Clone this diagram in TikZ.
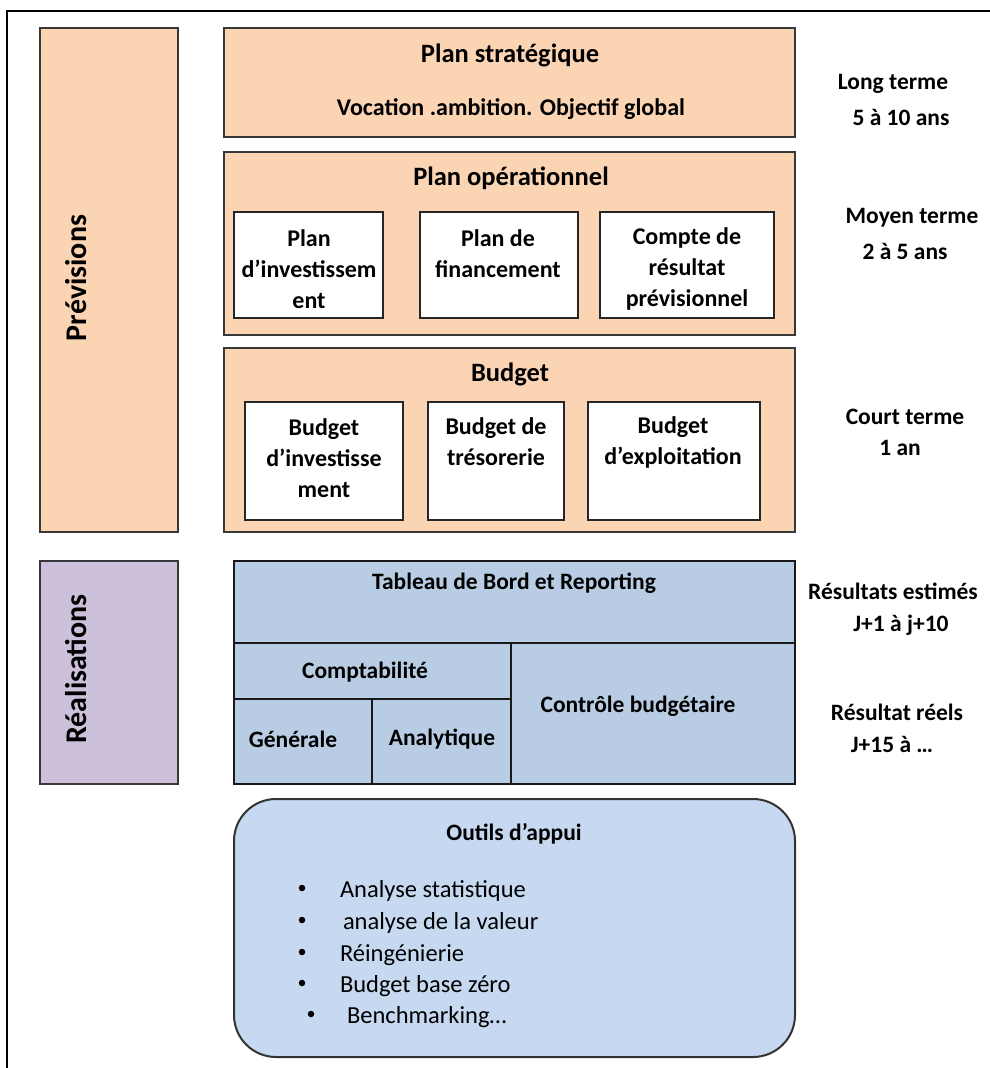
\documentclass[tikz,border=0pt]{standalone}
\usepackage{fontspec}
\setmainfont{Carlito}
\begin{document}
\begin{tikzpicture}[x=1pt,y=-1pt,
  every node/.style={inner sep=0pt,outer sep=0pt,font=\bfseries\fontsize{24}{31}\selectfont},
  peach/.style={draw=black!78,line width=2.2pt,fill=peachfill},
  whitebox/.style={draw=black!85,line width=1.6pt,fill=white},
  bluecell/.style={draw=black!90,line width=1.5pt,fill=bluefill},
  txt/.style={align=center},
  head/.style={align=center,font=\bfseries\fontsize{26.5}{31}\selectfont},
  cell/.style={align=center,font=\bfseries\fontsize{23.5}{31}\selectfont},
  side/.style={font=\bfseries\fontsize{23.5}{28}\selectfont},
  vert/.style={rotate=90,font=\bfseries\fontsize{30}{34}\selectfont},
  item/.style={anchor=base west,font=\fontsize{24.5}{28}\selectfont},
  dot/.style={circle,fill=black,minimum size=6.5pt}
]
\definecolor{peachfill}{HTML}{FBD4B4}
\definecolor{lilac}{HTML}{CCC0DA}
\definecolor{bluefill}{HTML}{B8CCE4}
\definecolor{lightblue}{HTML}{C6D9F1}
\useasboundingbox (0,0) rectangle (990,1068);

% page frame
\draw[line width=1.2pt] (7,1068) -- (7,11) -- (990,11);

% left column
\node[peach,minimum width=138,minimum height=504] (prev) at (109,280) {};
\node[vert] (prevtxt) at (76,278) {Prévisions};
\node[draw=black!78,line width=2.2pt,fill=lilac,minimum width=138,minimum height=223] (real) at (109,672.5) {};
\node[vert] (realtxt) at (76,669) {Réalisations};

% strategic plan
\node[peach,minimum width=571,minimum height=109] (strat) at (509.5,82.5) {};
\node[head] (strat1) at (510,55) {Plan stratégique};
\node[txt] (strat2) at (511,109) {Vocation .ambition. Objectif global};

% operational plan
\node[peach,minimum width=571,minimum height=183] (oper) at (509.5,243.5) {};
\node[head] (opertitle) at (511,178) {Plan opérationnel};
\node[whitebox,minimum width=149,minimum height=106] (pinv) at (308.5,265) {};
\node[txt] (pinvt) at (309,269) {Plan\\d’investissem\\ent};
\node[whitebox,minimum width=158,minimum height=106] (pfin) at (499,265) {};
\node[txt] (pfint) at (498,253.5) {Plan de\\financement};
\node[whitebox,minimum width=174,minimum height=106] (pcr) at (687,265) {};
\node[txt] (pcrt) at (687,269) {Compte de\\résultat\\prévisionnel};

% budget
\node[peach,minimum width=571,minimum height=184] (budg) at (509.5,440) {};
\node[head] (budgtitle) at (510,374) {Budget};
\node[whitebox,minimum width=158,minimum height=118] (binv) at (324,461) {};
\node[txt] (binvt) at (324,458) {Budget\\d’investisse\\ment};
\node[whitebox,minimum width=136,minimum height=118] (btre) at (496,461) {};
\node[txt] (btret) at (496,442) {Budget de\\trésorerie};
\node[whitebox,minimum width=172,minimum height=118] (bexp) at (674,461) {};
\node[txt] (bexpt) at (673,442) {Budget\\d’exploitation};

% dashboard and accounting grid
\node[bluecell,minimum width=561,minimum height=82] (tab) at (514.5,602) {};
\node[cell] (tabt) at (514,583) {Tableau de Bord et Reporting};
\node[bluecell,minimum width=277,minimum height=56] (compta) at (372.5,671) {};
\node[cell] (comptat) at (365,672) {Comptabilité};
\node[bluecell,minimum width=138,minimum height=85] (gen) at (303,741.5) {};
\node[cell] (gent) at (293,739) {Générale};
\node[bluecell,minimum width=139,minimum height=85] (ana) at (441.5,741.5) {};
\node[cell] (anat) at (442,739) {Analytique};
\node[bluecell,minimum width=284,minimum height=141] (ctrl) at (653,713.5) {};
\node[cell] (ctrlt) at (638,706) {Contrôle budgétaire};

% support tools
\node[draw=black!80,line width=2pt,fill=lightblue,rounded corners=42pt,
      minimum width=561,minimum height=258] (outils) at (514.5,928) {};
\node[cell] (outilst) at (514,834) {Outils d’appui};
\node[dot] (d1) at (302,888) {};
\node[dot] (d2) at (302,920) {};
\node[dot] (d3) at (302,952) {};
\node[dot] (d4) at (302,983) {};
\node[dot] (d5) at (311,1014) {};
\node[item] (i1) at (340,897) {Analyse statistique};
\node[item] (i2) at (343,929) {analyse de la valeur};
\node[item] (i3) at (340,961) {Réingénierie};
\node[item] (i4) at (340,992) {Budget base zéro};
\node[item] (i5) at (347,1023) {Benchmarking…};

% time horizons
\node[side] (lt1) at (893,84) {Long terme};
\node[side] (lt2) at (901,117) {5 à 10 ans};
\node[side] (mt1) at (912,218) {Moyen terme};
\node[side] (mt2) at (905,251) {2 à 5 ans};
\node[side] (ct1) at (905,417) {Court terme};
\node[side] (ct2) at (900,448) {1 an};
\node[side] (re1) at (893,591) {Résultats estimés};
\node[side] (re2) at (901,625) {J+1 à j+10};
\node[side] (rr1) at (897,712) {Résultat réels};
\node[side] (rr2) at (892,744) {J+15 à …};
\end{tikzpicture}
\end{document}
